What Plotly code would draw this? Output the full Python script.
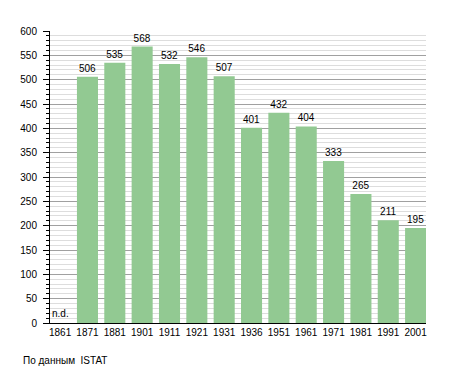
import plotly.graph_objects as go

years = ["1861", "1871", "1881", "1901", "1911", "1921", "1931", "1936",
         "1951", "1961", "1971", "1981", "1991", "2001"]
population = [None, 506, 535, 568, 532, 546, 507, 401, 432, 404, 333, 265, 211, 195]
labels = ["" if v is None else str(v) for v in population]
source_text = "По данным  ISTAT"
missing_text = "n.d."
missing_index = population.index(None)

FONT = "Liberation Sans, Arial, sans-serif"

fig = go.Figure()
fig.add_trace(go.Bar(
    x=years, y=population, text=labels, textposition="outside",
    textfont=dict(family=FONT, size=10, color="#000000"),
    marker=dict(color="#92c992", line=dict(width=0)),
    width=0.77, cliponaxis=False, hoverinfo="skip",
))

fig.add_annotation(x=missing_index, y=0, text=missing_text, showarrow=False,
                   xref="x", yref="y", xanchor="center", yanchor="bottom",
                   yshift=2, font=dict(family=FONT, size=10, color="#000000"))
fig.add_annotation(xref="paper", yref="paper", x=-0.078, y=-0.130,
                   xanchor="left", yanchor="middle", text=source_text,
                   showarrow=False, font=dict(family=FONT, size=10, color="#000000"))

# page body has an 8px default margin, so the figure is shrunk and shifted by it
fig.update_layout(
    width=447, height=365,
    margin=dict(l=42, r=29, t=23, b=50, autoexpand=False),
    plot_bgcolor="#ffffff", paper_bgcolor="#ffffff",
    showlegend=False,
    font=dict(family=FONT, size=10, color="#000000"),
)
fig.update_xaxes(
    type="category", range=[-0.37, 13.38], showline=True, linecolor="#000000",
    linewidth=1, ticks="", showgrid=False, tickfont=dict(size=10),
    fixedrange=True,
)
fig.update_yaxes(
    range=[0, 600], dtick=50, showline=True, linecolor="#000000", linewidth=1,
    ticks="outside", ticklen=6, tickcolor="#000000", tickwidth=1,
    showgrid=True, gridcolor="#a0a0a0", gridwidth=1, zeroline=False,
    tickfont=dict(size=10), ticklabelstandoff=4,
    minor=dict(dtick=10, ticks="outside", ticklen=3, tickcolor="#000000",
               showgrid=True, gridcolor="#dddddd", gridwidth=1),
    fixedrange=True,
)

fig.write_html("out.html")
